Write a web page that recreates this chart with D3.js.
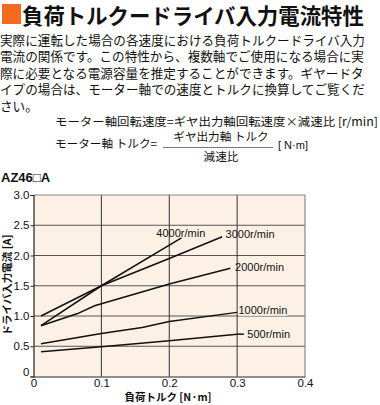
<!DOCTYPE html>
<html><head><meta charset="utf-8">
<script src="https://cdn.jsdelivr.net/npm/d3@7"></script>
<style>
body{margin:0;background:#fff;}
svg{display:block;}
.jp{font-family:"Noto Sans CJK JP","Noto Sans",sans-serif;}
.num{font-family:"Liberation Sans",Arial,sans-serif;}
</style></head>
<body><svg id="c" width="380" height="405"></svg>
<script>
const title = "負荷トルクードライバ入力電流特性";
const paragraph = [
  "実際に運転した場合の各速度における負荷トルクードライバ入力",
  "電流の関係です。この特性から、複数軸でご使用になる場合に実",
  "際に必要となる電源容量を推定することができます。ギヤードタ",
  "イプの場合は、モーター軸での速度とトルクに換算してご覧くだ",
  "さい。"
];
const formula1 = "モーター軸回転速度=ギヤ出力軸回転速度×減速比 [r/min]";
const formula2Left = "モーター軸 トルク=";
const formula2Num = "ギヤ出力軸 トルク";
const formula2Den = "減速比";
const formula2Unit = "[ N·m]";
const modelName = "AZ46□A";
const xTicks = [0, 0.1, 0.2, 0.3, 0.4];
const xTickLabels = ["0", "0.1", "0.2", "0.3", "0.4"];
const yTicks = [0, 0.5, 1.0, 1.5, 2.0, 2.5, 3.0];
const yTickLabels = ["0", "0.5", "1.0", "1.5", "2.0", "2.5", "3.0"];
const xTitle = "負荷トルク [N·m]";
const yTitle = "ドライバ入力電流 [A]";
const seriesNames = ["4000r/min", "3000r/min", "2000r/min", "1000r/min", "500r/min"];
const torque4000 = [0.011, 0.1, 0.218];
const current4000 = [0.84, 1.5, 2.29];
const torque3000 = [0.011, 0.1, 0.2, 0.278];
const current3000 = [1.0, 1.5, 1.95, 2.31];
const torque2000 = [0.011, 0.065, 0.09, 0.2, 0.29];
const current2000 = [0.84, 1.04, 1.17, 1.53, 1.79];
const torque1000 = [0.011, 0.1, 0.16, 0.2, 0.3];
const current1000 = [0.54, 0.71, 0.81, 0.91, 1.06];
const torque500 = [0.011, 0.1, 0.2, 0.3];
const current500 = [0.41, 0.49, 0.59, 0.70];
// label anchor (data coords) for each series
const labelTorque = [0.181, 0.283, 0.297, 0.302, 0.315];
const labelCurrent = [2.37, 2.36, 1.80, 1.10, 0.70];

const svg = d3.select("#c");
// Header
svg.append("rect").attr("x", 2).attr("y", 4).attr("width", 19).attr("height", 20).attr("fill", "#f26a1b");
svg.append("text").attr("class","jp").attr("x", 22).attr("y", 23.5).attr("font-size", 21.4)
  .attr("font-weight", "bold").attr("fill", "#111").text(title);
paragraph.forEach((t, i) => {
  svg.append("text").attr("class","jp").attr("x", 0).attr("y", 45 + i * 16.4)
    .attr("font-size", 12.6).attr("fill", "#111").text(t);
});
svg.append("text").attr("class","jp").attr("x", 55).attr("y", 126).attr("font-size", 11.6)
  .attr("fill", "#111").attr("textLength", 323).attr("lengthAdjust","spacingAndGlyphs").text(formula1);
svg.append("text").attr("class","jp").attr("x", 55).attr("y", 148).attr("font-size", 11.6)
  .attr("fill", "#111").attr("textLength", 102).attr("lengthAdjust","spacingAndGlyphs").text(formula2Left);
svg.append("text").attr("class","jp").attr("x", 221).attr("y", 141).attr("font-size", 11.6)
  .attr("text-anchor","middle").attr("fill", "#111").text(formula2Num);
svg.append("line").attr("x1", 163).attr("x2", 273).attr("y1", 147.5).attr("y2", 147.5)
  .attr("stroke", "#555").attr("stroke-width", 0.8);
svg.append("text").attr("class","jp").attr("x", 221).attr("y", 161).attr("font-size", 11.6)
  .attr("text-anchor","middle").attr("fill", "#111").text(formula2Den);
svg.append("text").attr("class","num").attr("x", 278).attr("y", 149).attr("font-size", 11)
  .attr("fill", "#111").text(formula2Unit);
svg.append("text").attr("class","num").attr("x", 1).attr("y", 182).attr("font-size", 13)
  .attr("font-weight","bold").attr("fill", "#111").text(modelName);

// Chart
const x = d3.scaleLinear().domain([0, 0.4]).range([33.5, 305]);
const y = d3.scaleLinear().domain([0, 3]).range([376.5, 195]);
const g = svg.append("g");
g.append("rect").attr("x", x(0)).attr("y", y(3)).attr("width", x(0.4) - x(0)).attr("height", y(0) - y(3))
  .attr("fill", "#fdf1e5");
// horizontal gridlines
g.selectAll(".hg").data(yTicks.filter(v => v > 0 && v < 3)).enter().append("line")
  .attr("x1", x(0)).attr("x2", x(0.4)).attr("y1", d => y(d)).attr("y2", d => y(d))
  .attr("stroke", "#555").attr("stroke-width", 1);
const series = [
  [torque4000, current4000], [torque3000, current3000], [torque2000, current2000],
  [torque1000, current1000], [torque500, current500]
];
// label backgrounds
const labG = g.append("g");
// vertical gridlines
g.selectAll(".vg").data(xTicks.filter(v => v > 0 && v < 0.4)).enter().append("line")
  .attr("x1", d => x(d)).attr("x2", d => x(d)).attr("y1", y(3)).attr("y2", y(0))
  .attr("stroke", "#333").attr("stroke-width", 1);
// frame
g.append("line").attr("x1", x(0)).attr("x2", x(0.4)).attr("y1", y(3)).attr("y2", y(3)).attr("stroke", "#888").attr("stroke-width", 1.2);
g.append("line").attr("x1", x(0.4)).attr("x2", x(0.4)).attr("y1", y(3)).attr("y2", y(0)).attr("stroke", "#888").attr("stroke-width", 1.2);
// axes
const yAxis = d3.axisLeft(y).tickValues(yTicks).tickSize(3).tickFormat((d, i) => yTickLabels[i]);
const ya = g.append("g").attr("transform", `translate(${x(0)},0)`).call(yAxis);
ya.select(".domain").attr("stroke", "#222").attr("stroke-width", 1.2);
ya.selectAll(".tick line").attr("stroke", "#222");
ya.selectAll(".tick text").attr("class","num").attr("font-size", 11.5).attr("fill", "#111").attr("x", -4)
  .attr("dy", (d) => d === 0 ? "-0.05em" : "0.32em");
const xAxis = d3.axisBottom(x).tickValues(xTicks).tickSize(0).tickFormat((d, i) => xTickLabels[i]);
const xa = g.append("g").attr("transform", `translate(0,${y(0)})`).call(xAxis);
xa.select(".domain").attr("stroke", "#222").attr("stroke-width", 1.2);
xa.selectAll(".tick text").attr("class","num").attr("font-size", 11.5).attr("fill", "#111").attr("y", 2);

// series lines
const line = d3.line().x(d => x(d[0])).y(d => y(d[1]));
series.forEach(([t, c]) => {
  g.append("path").datum(t.map((v, i) => [v, c[i]])).attr("d", line)
    .attr("fill", "none").attr("stroke", "#111").attr("stroke-width", 1.5);
});
// leader for 500
g.append("line").attr("x1", x(0.3)).attr("x2", x(0.31)).attr("y1", y(0.70)).attr("y2", y(0.70))
  .attr("stroke", "#111").attr("stroke-width", 1.5);
// labels
seriesNames.forEach((n, i) => {
  const tx = g.append("text").attr("class","num").attr("x", x(labelTorque[i])).attr("y", y(labelCurrent[i]))
    .attr("font-size", 11).attr("fill", "#111").attr("dy", "0.35em").text(n);
  const bb = tx.node().getBBox();
  labG.append("rect").attr("x", bb.x).attr("y", bb.y).attr("width", bb.width).attr("height", bb.height)
    .attr("fill", "#fdf1e5");
});
// axis titles
svg.append("text").attr("class","jp").attr("x", 168).attr("y", 401).attr("font-size", 10.5)
  .attr("text-anchor", "middle").attr("font-weight","bold").attr("fill", "#111").text(xTitle);
svg.append("text").attr("class","jp").attr("transform", "translate(11,285) rotate(-90)").attr("font-size", 10.5)
  .attr("text-anchor", "middle").attr("font-weight","bold").attr("fill", "#111").text(yTitle);
</script></body></html>
